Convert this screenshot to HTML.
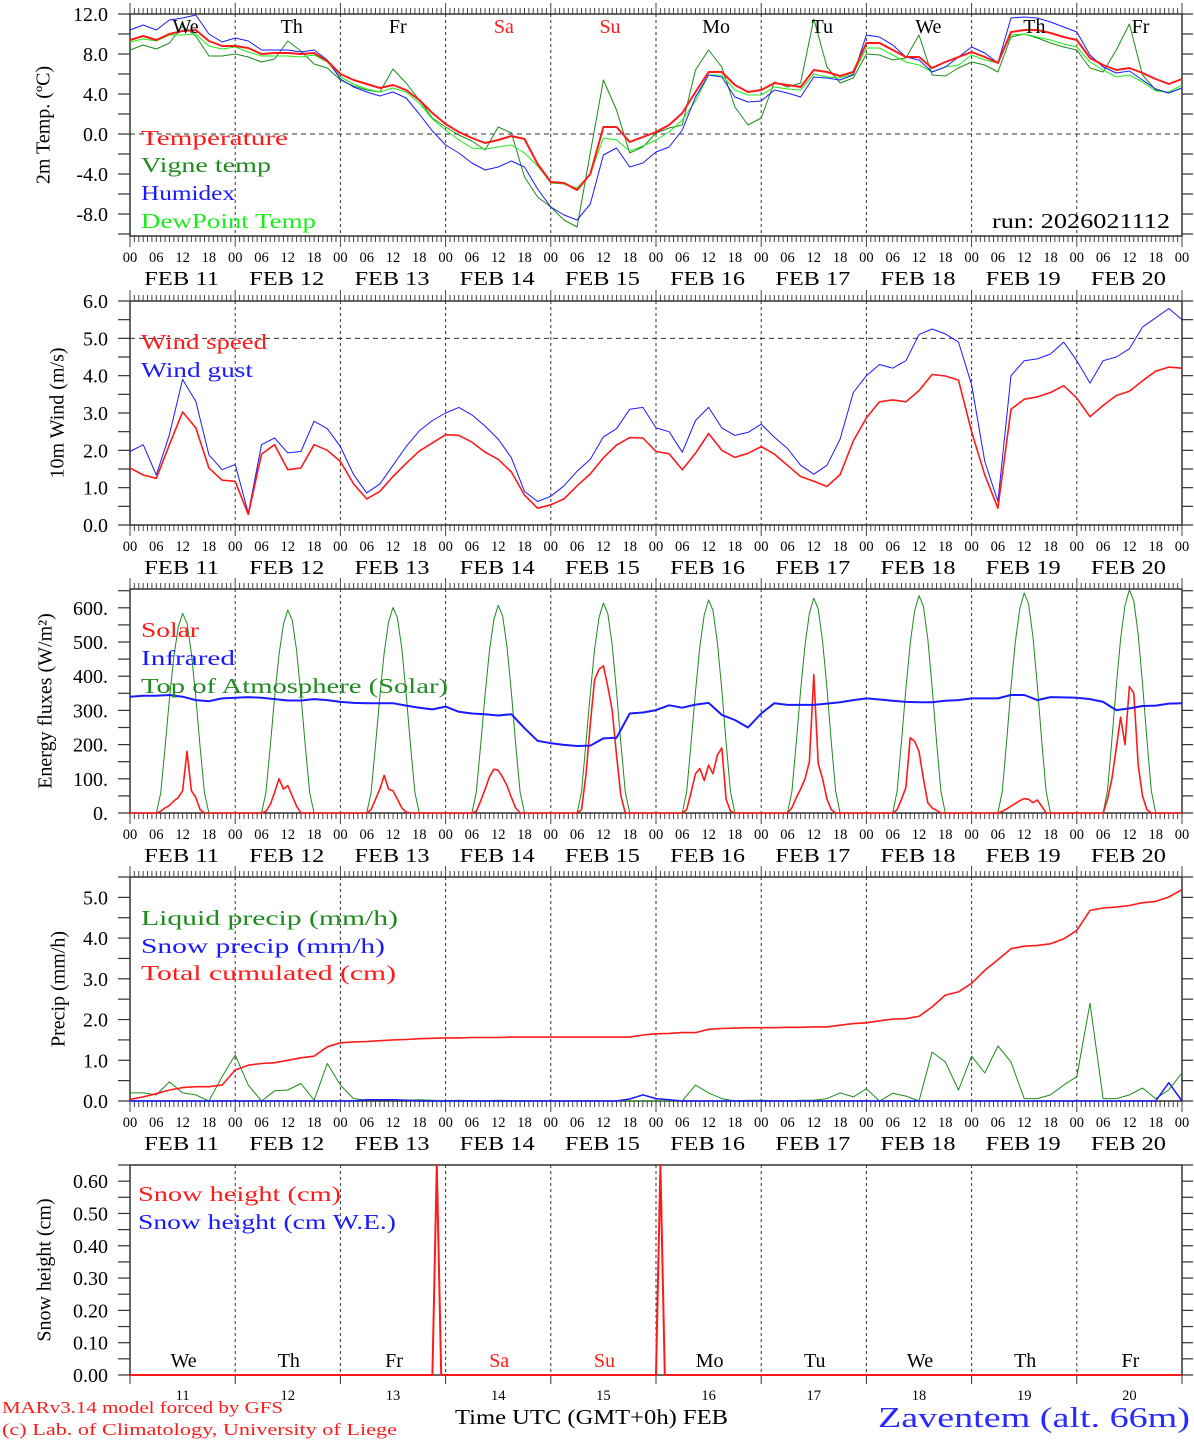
<!DOCTYPE html>
<html><head><meta charset="utf-8"><style>
html,body{margin:0;padding:0;background:#fff;}
svg{display:block;font-family:"Liberation Serif","DejaVu Serif",serif;}
</style></head><body>
<svg id="chart" width="1194" height="1440" viewBox="0 0 1194 1440" xmlns="http://www.w3.org/2000/svg"></svg>
<script>
// ---------- DATA (3-hourly, index k = hours/3 from FEB 11 00 UTC) ----------
const dayNames = ["We","Th","Fr","Sa","Su","Mo","Tu","We","Th","Fr"];
const dayNumbers = ["11","12","13","14","15","16","17","18","19","20"];
const hourLabels = ["00","06","12","18"];
const tempY = [9.4,9.8,9.4,10.0,10.3,10.4,9.3,8.8, 8.8,8.6,8.0,8.1,8.1,8.0,8.1,7.3, 6.0,5.4,5.0,4.6,4.9,4.4,3.4,2.1, 1.0,0.2,-0.4,-0.9,-0.6,-0.2,-0.5,-3.0, -4.8,-4.9,-5.6,-4.0,0.7,0.7,-0.8,-0.3, 0.2,0.9,2.1,4.2,6.2,6.2,4.9,4.2, 4.4,5.1,4.9,4.7,6.4,6.2,5.8,6.2, 9.1,9.1,8.4,7.7,7.7,6.6,7.2,7.7, 8.2,7.7,7.1,10.2,10.4,10.4,10.1,9.7, 9.4,7.6,6.9,6.4,6.6,6.1,5.5,5.0, 5.5];
const vigneY = [8.4,8.9,8.5,9.1,10.8,9.8,7.8,7.8, 8.0,7.7,7.2,7.5,9.3,8.3,7.0,6.6, 5.4,4.8,4.4,4.2,6.5,5.1,3.4,1.6, 0.7,-0.1,-0.7,-1.6,0.7,0.1,-4.3,-6.3, -7.3,-8.6,-9.3,-1.9,5.4,2.4,-1.9,-1.3, 0.1,0.6,0.9,6.4,8.4,6.7,2.7,0.9, 1.6,5.2,4.7,5.1,11.5,6.7,5.1,5.6, 8.0,7.9,7.4,7.6,9.9,5.9,5.8,6.6, 7.2,6.9,6.2,9.7,10.0,9.6,9.1,8.7, 8.4,6.6,6.2,8.4,11.0,5.9,4.4,4.1, 4.6];
const humidexY = [10.4,10.9,10.4,11.4,11.6,11.9,10.0,9.2, 9.6,9.3,8.4,8.4,8.4,8.2,8.4,7.4, 5.5,4.7,4.2,3.8,4.2,3.6,2.0,0.3, -1.1,-1.9,-2.9,-3.6,-3.3,-2.7,-3.3,-5.5, -7.3,-8.1,-8.6,-7.0,-2.1,-1.4,-3.3,-2.9, -1.8,-1.3,0.4,3.7,5.9,5.7,3.7,3.2, 3.3,4.4,4.1,3.7,5.7,5.6,5.4,5.9, 9.9,9.7,8.9,7.7,7.4,6.2,6.7,7.7, 8.7,8.1,7.1,11.6,11.7,11.6,11.2,10.7, 10.2,7.9,6.7,6.1,6.3,5.4,4.5,4.1, 4.6];
const dewY = [9.2,9.5,9.3,9.9,9.9,10.0,8.8,8.5, 8.7,8.2,7.8,7.8,7.8,7.7,7.9,7.2, 5.7,5.0,4.5,4.2,4.6,4.2,3.1,1.5, 0.4,-0.6,-1.4,-1.5,-1.3,-1.1,-1.9,-3.2, -4.9,-5.0,-5.4,-4.0,-0.4,-0.6,-1.7,-1.2, -0.6,0.2,1.4,3.3,5.9,5.9,4.4,3.9, 3.9,4.7,4.5,4.4,6.0,5.7,5.6,6.0, 8.6,8.6,7.9,7.2,6.9,6.2,6.7,6.9, 7.9,7.4,7.1,9.9,10.0,9.7,9.4,9.0, 8.7,7.2,6.4,5.7,5.9,5.2,4.3,4.2, 4.9];
const windSpeed = [1.53,1.34,1.25,2.15,3.03,2.6,1.53,1.2,1.17,0.28,1.9,2.15,1.48,1.53,2.15, 2.0,1.7,1.1,0.7,0.9,1.3,1.65,1.98,2.2,2.42,2.4,2.22,1.95,1.76,1.42,0.8,0.45,0.54,0.7,1.05,1.37,1.8,2.14,2.34,2.33, 1.97,1.91,1.48,1.92,2.45,2.0,1.81,1.92,2.1,1.9,1.6,1.3,1.17,1.03,1.35,2.25,2.87,3.3,3.35,3.3,3.6,4.03,3.99,3.88,2.5,1.34,0.45,3.1,3.37,3.43,3.55,3.73,3.4,2.9,3.2,3.47,3.58,3.86,4.12,4.23,4.2];
const windGust = [1.97,2.15,1.34,2.42,3.9,3.31,1.88,1.48,1.62,0.32,2.15,2.33,1.93,1.97,2.78, 2.58,2.1,1.35,0.86,1.1,1.6,2.1,2.52,2.8,3.0,3.15,2.95,2.65,2.3,1.8,0.9,0.63,0.77,1.05,1.44,1.76,2.36,2.58,3.1,3.15, 2.6,2.5,1.95,2.8,3.15,2.6,2.4,2.48,2.7,2.35,2.05,1.6,1.36,1.6,2.3,3.55,4.0,4.3,4.2,4.4,5.1,5.25,5.12,4.9,3.76,1.7,0.63,4.0,4.4,4.45,4.58,4.9,4.4,3.8,4.4,4.5,4.72,5.3,5.55,5.8,5.5];
const infrared = [340,343,343,345,340,330,327,335,337,339,337,333,329,329,333,330,325,322,321,321,321,314,308,303,311,296,291,289,285,289,248,211,204,199,196,197,218,220,291,294, 301,315,308,317,322,287,272,250,291,321,316,316,316,320,324,330,335,332,328,325,324,324,328,330,335,335,335,345,345,330,339,338,337,333,325,301,306,313,314,320,321];
// hourly series (index = hour from FEB 11 00 UTC)
const solar = [
0,0,0,0,0,0,0,5,15,22,35,45,65,180,65,45,10,0,0,0,0,0,0,0,
0,0,0,0,0,0,0,5,25,60,100,70,80,50,20,0,0,0,0,0,0,0,0,0,
0,0,0,0,0,0,0,10,40,70,110,70,65,40,15,3,0,0,0,0,0,0,0,0,
0,0,0,0,0,0,0,5,35,70,105,128,125,105,80,45,15,0,0,0,0,0,0,0,
0,0,0,0,0,0,0,10,110,260,390,420,430,370,300,170,50,0,0,0,0,0,0,0,
0,0,0,0,0,0,0,10,60,115,130,95,140,115,170,190,40,5,0,0,0,0,0,0,
0,0,0,0,0,0,0,15,45,70,100,150,404,145,100,40,10,0,0,0,0,0,0,0,
0,0,0,0,0,0,0,10,40,75,220,210,180,100,30,15,8,0,0,0,0,0,0,0,
0,0,0,0,0,0,0,5,12,20,28,36,42,40,30,38,20,0,0,0,0,0,0,0,
0,0,0,0,0,0,0,40,100,190,280,200,370,350,140,50,10,0,0,0,0,0,0,0,
0];
const toa = [
0,0,0,0,0,0,0,58,193,333,456,543,584,555,467,339,193,58,0,0,0,0,0,0,
0,0,0,0,0,0,0,59,196,339,463,552,594,564,475,345,196,59,0,0,0,0,0,0,
0,0,0,0,0,0,0,60,198,343,469,559,601,571,481,349,198,60,0,0,0,0,0,0,
0,0,0,0,0,0,0,61,200,346,473,565,607,577,486,352,200,61,0,0,0,0,0,0,
0,0,0,0,0,0,0,61,203,350,479,571,614,583,491,356,203,61,0,0,0,0,0,0,
0,0,0,0,0,0,0,62,206,355,486,579,623,592,498,361,206,62,0,0,0,0,0,0,
0,0,0,0,0,0,0,63,207,358,490,584,628,597,502,364,207,63,0,0,0,0,0,0,
0,0,0,0,0,0,0,64,210,363,496,591,636,604,509,369,210,64,0,0,0,0,0,0,
0,0,0,0,0,0,0,64,212,367,502,598,643,611,514,373,212,64,0,0,0,0,0,0,
0,0,0,0,0,0,0,65,215,372,509,607,653,620,522,379,215,65,0,0,0,0,0,0,
0];
const liquidPrecip = [0.2,0.2,0.15,0.47,0.2,0.15,0,0.6,1.13,0.39,0,0.25,0.27,0.43,0.02,0.92,0.39,0.06,0.02, 0.03,0.02,0.02,0.03,0.02,0.01,0.02,0.01,0.01,0.02,0.01,0,0,0,0,0,0,0,0,0, 0,0,0,0,0.39,0.2,0.06,0,0.02,0.02,0,0,0.02,0.02,0.06,0.2,0.1,0.3,0,0.19,0.12,0,1.2,0.96,0.27,1.1,0.69,1.35,0.96,0.06,0.06,0.15,0.39,0.6,2.4,0.06,0.06,0.15,0.32,0.06,0.27,0.69];
const snowPrecip = [0,0,0,0,0,0,0,0,0,0,0,0,0,0,0,0,0,0,0.03,0.03,0.03,0.02,0,0,0,0,0,0,0,0,0,0,0,0,0,0,0,0,0.05,0.15,0.06,0.03,0,0,0,0,0,0,0,0,0,0,0,0,0,0,0,0,0,0,0,0,0,0,0,0,0,0,0,0,0,0,0,0,0,0,0,0,0,0.45,0];
const totalCum = [0.04,0.1,0.18,0.27,0.33,0.35,0.35,0.39,0.76,0.88,0.92,0.94,1.0,1.06,1.1,1.33,1.43,1.45,1.46,1.48,1.5,1.51,1.53,1.54,1.55, 1.55,1.56,1.56,1.56,1.57,1.57,1.57,1.57,1.57,1.57,1.57,1.57,1.57,1.57, 1.62,1.65,1.66,1.68,1.68,1.76,1.78,1.79,1.8,1.8,1.8,1.81,1.81,1.82,1.82,1.86,1.9,1.92,1.97,2.01,2.02,2.08,2.31,2.6,2.68,2.89,3.21,3.47,3.74,3.8,3.82,3.86,3.98,4.19,4.68,4.74,4.76,4.8,4.87,4.9,5.01,5.19];
const snowHours = [0,69,70,71,120,121,122,240];
const snowHeight = [0,0,0.65,0,0,0.65,0,0];

// ---------- LAYOUT ----------
const NS = "http://www.w3.org/2000/svg";
const svg = document.getElementById("chart");
const X0 = 130, X1 = 1182, HOURS = 240;
function xh(h){ return X0 + h*(X1-X0)/HOURS; }
function mk(tag, attrs, parent, text){
  const e = document.createElementNS(NS, tag);
  for (const k in attrs) e.setAttribute(k, attrs[k]);
  if (text !== undefined) e.textContent = text;
  (parent || svg).appendChild(e);
  return e;
}
const panels = [
  {id:"temp", top:14, bot:236, min:-10.2, max:12, tick:2, label:4, fmt:v=>v.toFixed(1), title:"2m Temp. (ºC)", tx:45},
  {id:"wind", top:301, bot:525, min:0, max:6, tick:0.5, label:1, fmt:v=>v.toFixed(1), title:"10m Wind (m/s)", tx:59},
  {id:"energy", top:589, bot:813, min:0, max:655, tick:50, label:100, fmt:v=>v.toFixed(0)+".", title:"Energy fluxes (W/m²)", tx:47},
  {id:"precip", top:877, bot:1101, min:0, max:5.5, tick:0.5, label:1, fmt:v=>v.toFixed(1), title:"Precip (mm/h)", tx:60},
  {id:"snow", top:1165, bot:1375, min:0, max:0.65, tick:0.05, label:0.1, fmt:v=>v.toFixed(2), title:"Snow height (cm)", tx:46}
];
function ys(p, v){ return p.bot - (v - p.min)*(p.bot - p.top)/(p.max - p.min); }

panels.forEach((p, pi) => {
  const g = mk("g", {});
  
  
  const last = pi === 4;
  for (let d = 1; d < 10; d++) {
    const l = mk("line", {x1:xh(d*24), x2:xh(d*24), y1:p.top, y2:p.bot, stroke:"#333", "stroke-width":1, "stroke-dasharray":"3,3"}, g);
    
    
  }
  for (let v = Math.ceil(p.min/p.tick)*p.tick; v <= p.max + 1e-9; v += p.tick) {
    const y = ys(p, v);
    mk("line", {x1:118, x2:X0, y1:y, y2:y, stroke:"#333", "stroke-width":1.2}, g);
    mk("line", {x1:X1, x2:1193, y1:y, y2:y, stroke:"#333", "stroke-width":1.2}, g);
    const r = v/p.label;
    if (Math.abs(r - Math.round(r)) < 1e-6) {
      const t = mk("text", {x:108, y:y+7, "text-anchor":"end", "font-size":20, fill:"#000"}, g, p.fmt(Math.abs(v)<1e-9?0:v));
      
      
    }
  }
  if (!last) {
    for (let h = 0; h <= HOURS; h++) {
      const big = h % 24 === 0;
      const x = xh(h);
      mk("line", {x1:x, x2:x, y1:p.top - (big?11:6), y2:p.top, stroke:"#444", "stroke-width":1}, g);
      mk("line", {x1:x, x2:x, y1:p.bot, y2:p.bot + (big?11:6), stroke:"#444", "stroke-width":1}, g);
    }
    for (let d = 0; d <= 10; d++) {
      for (let i = 0; i < 4; i++) {
        if (d === 10 && i > 0) break;
        const t = mk("text", {x:xh(d*24 + i*6), y:p.bot + 26, "text-anchor":"middle", "font-size":14.5, fill:"#000"}, g, hourLabels[i]);
        
        
      }
      if (d < 10) {
        const t = mk("text", {x:xh(d*24+12)-1, y:p.bot + 49, "text-anchor":"middle", "font-size":20, textLength:75, lengthAdjust:"spacingAndGlyphs", fill:"#000"}, g, "FEB " + dayNumbers[d]);
        
        
      }
    }
  } else {
    for (let d = 0; d <= 10; d++) {
      mk("line", {x1:xh(d*24), x2:xh(d*24), y1:p.bot, y2:p.bot + 9, stroke:"#333", "stroke-width":1}, g);
    }
  }
  const f = mk("rect", {x:X0, y:p.top, width:X1-X0, height:p.bot-p.top, fill:"none", stroke:"#333", "stroke-width":1.5}, g);
  
  
  const yt = mk("text", {x:p.tx, y:(p.top+p.bot)/2, transform:`rotate(-90 ${p.tx} ${(p.top+p.bot)/2})`, "text-anchor":"middle", "dominant-baseline":"middle", "font-size":20, fill:"#000"}, g, p.title);
  
  
  p.g = g;
});

function series(p, vals, step, color, width, name, hours){
  const pts = vals.map((v,i) => xh(hours ? hours[i] : i*step).toFixed(1) + "," + ys(p, v).toFixed(1)).join(" ");
  const l = mk("polyline", {points:pts, fill:"none", stroke:color, "stroke-width":width, "stroke-linejoin":"round"}, p.g);
  
  
  return l;
}
function hline(p, v, name){
  const l = mk("line", {x1:X0, x2:X1, y1:ys(p,v), y2:ys(p,v), stroke:"#333", "stroke-width":1, "stroke-dasharray":"5,4"}, p.g);
  
  
}
function legend(p, x, y, text, color, len, name){
  const t = mk("text", {x:x, y:y, "font-size":21, fill:color, textLength:len, lengthAdjust:"spacingAndGlyphs"}, p.g, text);
  
  
}
const RED="#ff1a1a", GREEN="#1f8a1f", BLUE="#1a1aff", LIME="#1aee1a";

const P1 = panels[0];
hline(P1, 0, 'zero-line');
series(P1, vigneY, 3, GREEN, 1, 'vigne-temp-line');
series(P1, dewY, 3, LIME, 1, 'dewpoint-line');
series(P1, humidexY, 3, BLUE, 1, 'humidex-line');
series(P1, tempY, 3, RED, 2, 'temperature-line');
dayNames.forEach((d,i) => {
  const t = mk("text", {x:xh(i*24+12)+3+i*0.9, y:33, "text-anchor":"middle", "font-size":20, fill:(i===3||i===4)?RED:"#000"}, P1.g, d);
  
  
});
legend(P1, 141, 145, "Temperature", RED, 147, 'legend-temperature');
legend(P1, 141, 172, "Vigne temp", GREEN, 130, 'legend-vigne-temp');
legend(P1, 141, 200, "Humidex", BLUE, 94, 'legend-humidex');
legend(P1, 141, 228, "DewPoint Temp", LIME, 175, 'legend-dewpoint');
legend(P1, 992, 228, "run: 2026021112", "#000", 178, 'run-label');

const P2 = panels[1];
hline(P2, 5, 'reference-line-5ms');
series(P2, windGust, 3, BLUE, 1, 'wind-gust-line');
series(P2, windSpeed, 3, RED, 1.6, 'wind-speed-line');
legend(P2, 141, 349, "Wind speed", RED, 126, 'legend-wind-speed');
legend(P2, 141, 377, "Wind gust", BLUE, 112, 'legend-wind-gust');

const P3 = panels[2];
series(P3, toa, 1, GREEN, 1, 'toa-solar-line');
series(P3, solar, 1, RED, 1.6, 'solar-line');
series(P3, infrared, 3, BLUE, 2, 'infrared-line');
legend(P3, 141, 637, "Solar", RED, 58, 'legend-solar');
legend(P3, 141, 665, "Infrared", BLUE, 94, 'legend-infrared');
legend(P3, 141, 693, "Top of Atmosphere (Solar)", GREEN, 307, 'legend-toa');

const P4 = panels[3];
series(P4, liquidPrecip, 3, GREEN, 1, 'liquid-precip-line');
series(P4, snowPrecip, 3, BLUE, 1.5, 'snow-precip-line');
series(P4, totalCum, 3, RED, 1.6, 'total-cumulated-line');
legend(P4, 141, 925, "Liquid precip (mm/h)", GREEN, 257, 'legend-liquid-precip');
legend(P4, 141, 953, "Snow precip (mm/h)", BLUE, 244, 'legend-snow-precip');
legend(P4, 141, 980, "Total cumulated (cm)", RED, 255, 'legend-total-cumulated');

const P5 = panels[4];
series(P5, snowHeight, 1, RED, 2, 'snow-height-line', snowHours);
legend(P5, 138, 1201, "Snow height (cm)", RED, 203, 'legend-snow-height');
legend(P5, 138, 1229, "Snow height (cm W.E.)", BLUE, 258, 'legend-snow-height-we');
dayNames.forEach((d,i) => {
  const t = mk("text", {x:xh(i*24+12)+1, y:1367, "text-anchor":"middle", "font-size":20, fill:(i===3||i===4)?RED:"#000"}, P5.g, d);
  
  
  const n = mk("text", {x:xh(i*24+12), y:1400, "text-anchor":"middle", "font-size":14.5, fill:"#000"}, P5.g, dayNumbers[i]);
  
  
});

let t;
t = mk("text", {x:2, y:1413, "font-size":17, fill:RED, textLength:281, lengthAdjust:"spacingAndGlyphs"}, svg, "MARv3.14 model forced by GFS");


t = mk("text", {x:2, y:1435, "font-size":17, fill:RED, textLength:395, lengthAdjust:"spacingAndGlyphs"}, svg, "(c) Lab. of Climatology, University of Liege");


t = mk("text", {x:455, y:1424, "font-size":21, fill:"#000", textLength:273, lengthAdjust:"spacingAndGlyphs"}, svg, "Time UTC (GMT+0h) FEB");


t = mk("text", {x:878, y:1427, "font-size":29, fill:"#2a2aff", textLength:312, lengthAdjust:"spacingAndGlyphs"}, svg, "Zaventem (alt. 66m)");


</script>
</body></html>
